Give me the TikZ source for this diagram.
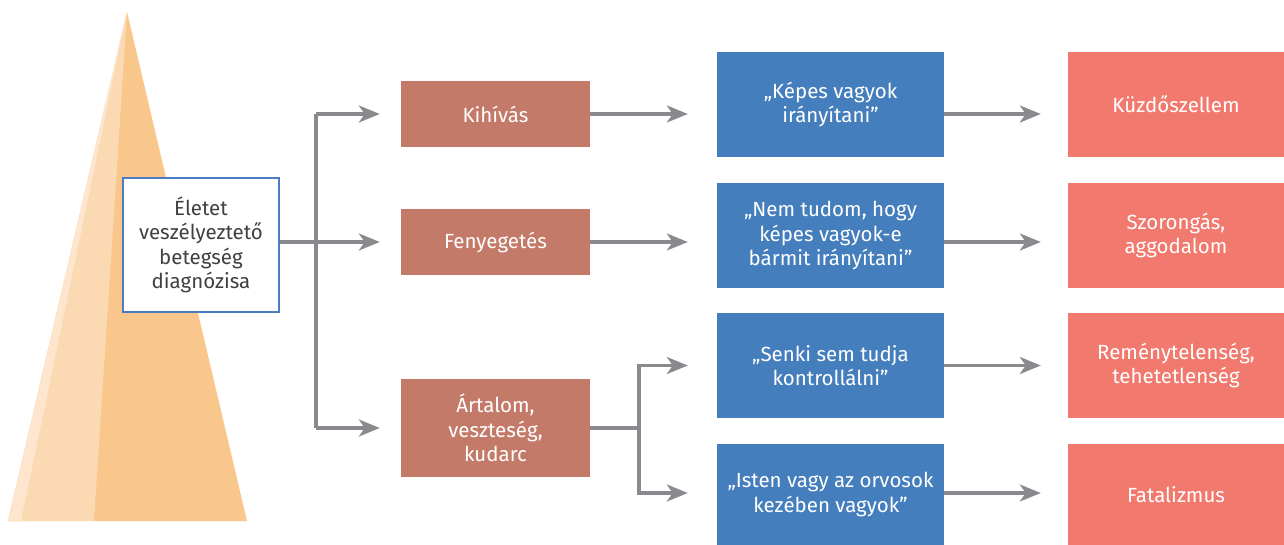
\documentclass[tikz,border=0pt]{standalone}
\usepackage{fontspec}
\setmainfont{Fira Sans}
\usetikzlibrary{arrows.meta}

\definecolor{pyrmain}{HTML}{F9C68B}
\definecolor{pyrmid}{HTML}{FBD9B2}
\definecolor{pyrlight}{HTML}{FDE6CD}
\definecolor{appraisal}{HTML}{C47A69}
\definecolor{thought}{HTML}{457EBC}
\definecolor{emotion}{HTML}{F1796D}
\definecolor{connector}{HTML}{898A8D}
\definecolor{frame}{HTML}{4A7CBF}

\tikzset{
  box/.style={rectangle, inner sep=0pt, align=center, font=\fontsize{20.5}{24.5}\selectfont},
  startbox/.style={box, draw=frame, line width=1.3pt, fill=white, text=black!75,
    minimum width=156pt, minimum height=134pt},
  appbox/.style={box, fill=appraisal, text=white, minimum width=189pt},
  thoughtbox/.style={box, fill=thought, text=white, minimum width=227pt, minimum height=105pt},
  emobox/.style={box, fill=emotion, text=white, minimum width=216pt, minimum height=105pt},
  link/.style={draw=connector, line width=3.2pt},
  arr/.style={link, -{Stealth[length=21pt, width=17pt, inset=6pt]}}
}

\begin{document}
\begin{tikzpicture}[x=1pt, y=-1pt]
  \useasboundingbox (0,0) rectangle (1284,545);

  % pyramid in the background
  \fill[pyrmain] (127,12) -- (8,521) -- (247,521) -- cycle;
  \fill[pyrmid] (127,12) -- (8,521) -- (94,521) -- cycle;
  \fill[pyrlight] (127,12) -- (8,521) -- (21,521) -- cycle;

  % starting point
  \node[startbox] (diag) at (201,245) {Életet\\veszélyeztető\\betegség\\diagnózisa};

  % appraisals
  \node[appbox, minimum height=66pt] (kihivas) at (495.5,114) {Kihívás};
  \node[appbox, minimum height=66pt] (fenyeget) at (495.5,242) {Fenyegetés};
  \node[appbox, minimum height=98pt] (artalom) at (495.5,428) {Ártalom,\\veszteség,\\kudarc};

  % thoughts
  \node[thoughtbox] (kepes) at (830.5,104.5) {„Képes vagyok\\irányítani”};
  \node[thoughtbox] (nemtudom) at (830.5,235.5) {„Nem tudom, hogy\\képes vagyok-e\\bármit irányítani”};
  \node[thoughtbox] (senki) at (830.5,365.5) {„Senki sem tudja\\kontrollálni”};
  \node[thoughtbox, minimum height=101pt] (isten) at (830.5,494.5) {„Isten vagy az orvosok\\kezében vagyok”};

  % emotions
  \node[emobox] (kuzdo) at (1176,104.5) {Küzdőszellem};
  \node[emobox] (szorong) at (1176,235.5) {Szorongás,\\aggodalom};
  \node[emobox] (remeny) at (1176,365.5) {Reménytelenség,\\tehetetlenség};
  \node[emobox, minimum height=101pt] (fatal) at (1176,494.5) {Fatalizmus};

  % branching
  \coordinate (fork1) at (316,242);
  \coordinate (fork2) at (639,428);
  \draw[link] (diag.east |- fork1) -- (fork1);
  \draw[link] (fork1) -- (fork1 |- kihivas);
  \draw[link] (fork1) -- (fork1 |- artalom);
  \draw[arr, shorten >=21pt] (fork1 |- kihivas) -- (kihivas.west);
  \draw[arr, shorten >=21pt] (fork1) -- (fenyeget.west);
  \draw[arr, shorten >=21pt] (fork1 |- artalom) -- (artalom.west);

  \draw[arr, shorten >=29pt] (kihivas.east) -- (kihivas -| kepes.west);
  \draw[arr, shorten >=29pt] (fenyeget.east) -- (fenyeget -| nemtudom.west);
  \draw[link] (artalom.east) -- (fork2);
  \draw[arr, shorten >=29pt] (fork2) |- (senki.west);
  \draw[arr, shorten >=29pt] (fork2) |- ([yshift=1.5pt]isten.west);

  \draw[arr, shorten >=27pt] (kepes.east |- kihivas) -- (kuzdo.west |- kihivas);
  \draw[arr, shorten >=27pt] (nemtudom.east |- fenyeget) -- (szorong.west |- fenyeget);
  \draw[arr, shorten >=27pt] (senki.east) -- (remeny.west);
  \draw[arr, shorten >=27pt] ([yshift=1.5pt]isten.east) -- ([yshift=1.5pt]fatal.west);
\end{tikzpicture}
\end{document}
